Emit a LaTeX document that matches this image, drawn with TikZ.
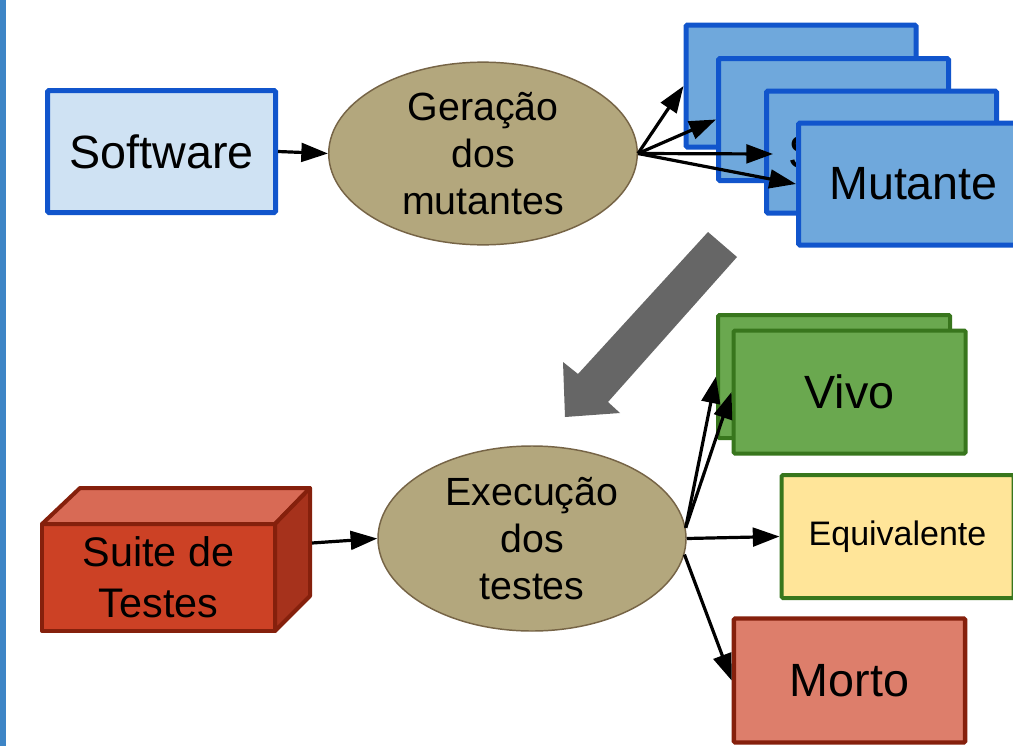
\documentclass[tikz,border=0pt]{standalone}
\usepackage{fontspec}
\setmainfont{Liberation Sans}
\usetikzlibrary{shapes.geometric,arrows.meta,calc}
\definecolor{barblue}{HTML}{3D85C6}
\definecolor{swfill}{HTML}{CFE2F3}
\definecolor{blueline}{HTML}{1155CC}
\definecolor{mutfill}{HTML}{6FA8DC}
\definecolor{tanfill}{RGB}{179,167,125}
\definecolor{tanline}{RGB}{118,100,70}
\definecolor{vivofill}{HTML}{6AA84F}
\definecolor{greenline}{HTML}{38761D}
\definecolor{eqfill}{HTML}{FFE599}
\definecolor{mortofill}{HTML}{DD7E6B}
\definecolor{redline}{HTML}{85200C}
\definecolor{suitefront}{HTML}{CC4125}
\definecolor{suitetop}{HTML}{D86A55}
\definecolor{suiteside}{HTML}{A6321C}
\definecolor{bigarrow}{HTML}{666666}
\tikzset{
  bigtext/.style={font=\fontsize{35}{40}\selectfont},
  ovaltext/.style={font=\fontsize{29.5}{35}\selectfont, align=center},
  swbox/.style={rectangle, rounded corners=1pt, draw=blueline, fill=swfill, line width=3.75pt,
    minimum width=171pt, minimum height=91.5pt, inner sep=0pt, bigtext},
  mutbox/.style={rectangle, rounded corners=1pt, draw=blueline, fill=mutfill, line width=3.75pt,
    minimum width=172.5pt, minimum height=91.5pt, inner sep=0pt, bigtext},
  oval/.style={ellipse, draw=tanline, fill=tanfill, line width=1.1pt, inner sep=0pt, ovaltext},
  vivobox/.style={rectangle, rounded corners=1pt, draw=greenline, fill=vivofill, line width=3pt,
    minimum width=174pt, minimum height=92.25pt, inner sep=0pt, bigtext},
  eqbox/.style={rectangle, rounded corners=1pt, draw=greenline, fill=eqfill, line width=3pt,
    minimum width=174pt, minimum height=92.25pt, inner sep=0pt, font=\fontsize{25.5}{30}\selectfont},
  mortobox/.style={rectangle, rounded corners=1pt, draw=redline, fill=mortofill, line width=3.3pt,
    minimum width=173.5pt, minimum height=93pt, inner sep=0pt, bigtext},
  cube/.style={draw=redline, line width=3pt, line join=round},
  arr/.style={-{Triangle[length=20pt,width=14pt]}, line width=2.4pt, black},
}
\begin{document}
\begin{tikzpicture}[x=0.75pt,y=-0.75pt]
\useasboundingbox (0,0) rectangle (1013,746);
\fill[white] (0,0) rectangle (1013,746);
\fill[barblue] (0,0) rectangle (6,746);

% top row
\node[swbox] (sw) at (161.5,151.5) {Software};
\node[oval, minimum width=231.4pt, minimum height=137pt] (gen) at (483,153.5) {Geração\\dos\\mutantes};
\node[mutbox] (m1) at (801,86) {};
\node[mutbox] (m2) at (833.5,119.5) {};
\node[mutbox] (m3) at (881.5,152) {};
\node[bigtext, anchor=west, inner sep=0pt] (m3t) at (788,152) {S};
\node[mutbox] (m4) at (913.5,184) {Mutante};

\draw[arr] (sw.east) -- (gen.west);
\draw[arr] (gen.east) -- (m1.west);
\draw[arr] (gen.east) -- (m2.west);
\draw[arr] (gen.east) -- ($(m3.west)+(9,2)$);
\draw[arr] (gen.east) -- (m4.west);

% big gray arrow
\fill[bigarrow] (708,232) -- (737,257) -- (608,402) -- (620,413) -- (565,417) -- (563,362) -- (578,374) -- cycle;

% suite de testes cuboid
\fill[suitefront, cube] (42,524) rectangle (275,631);
\filldraw[suitetop, cube] (42,524) -- (80,488) -- (310,488) -- (275,524) -- cycle;
\filldraw[suiteside, cube] (275,524) -- (310,488) -- (310,596) -- (275,631) -- cycle;
\node[ovaltext, font=\fontsize{31}{38}\selectfont, minimum width=174pt, minimum height=80pt] (suite) at (158.5,577.5) {Suite de\\Testes};
\coordinate (suiteR) at (312,543);

% bottom row
\node[oval, minimum width=231pt, minimum height=138.75pt] (exec) at (532,538.5) {Execução\\dos\\testes};
\node[vivobox] (v1) at (834,376.5) {};
\node[vivobox] (v2) at (849.5,392) {Vivo};
\node[eqbox] (eq) at (897.5,536.5) {Equivalente};
\node[mortobox] (morto) at (849.5,680.5) {Morto};

\draw[arr] (suiteR) -- (exec.west);
\draw[arr] (exec.4) -- (v1.west);
\draw[arr] (exec.4) -- (v2.west);
\draw[arr] (exec.east) -- (eq.west);
\draw[arr] (exec.-6) -- (morto.west);
\end{tikzpicture}
\end{document}
